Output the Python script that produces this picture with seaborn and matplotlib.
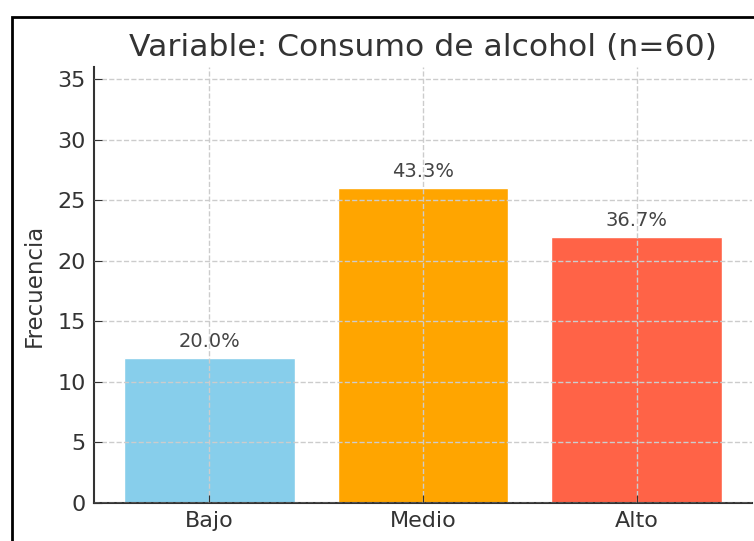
import pandas as pd
import seaborn as sns
import matplotlib.pyplot as plt
from matplotlib.patches import Rectangle

# Datos
categorias = ["Bajo", "Medio", "Alto"]
frecuencias = [12, 26, 22]
porcentajes = ["20.0%", "43.3%", "36.7%"]
colores = ["#87CEEB", "#FFA500", "#FF6347"]

df = pd.DataFrame({"nivel": categorias, "frecuencia": frecuencias})

sns.set_style("ticks")
fig = plt.figure(figsize=(7.54, 5.41), dpi=100)
ax = fig.add_axes([94 / 754, 38 / 541, 658 / 754, 436 / 541])

sns.barplot(data=df, x="nivel", y="frecuencia", hue="nivel", palette=colores,
            legend=False, width=0.8, saturation=1, ax=ax)

for i, (f, p) in enumerate(zip(frecuencias, porcentajes)):
    ax.annotate(p, (i, f), xytext=(0, 5), textcoords="offset points",
                ha="center", va="bottom", fontsize=14, color="#444444")

ax.set_xlim(-0.54, 2.54)
ax.set_ylim(0, 36)
ax.set_yticks(range(0, 36, 5))
ax.set_title("Variable: Consumo de alcohol (n=60)", fontsize=22.6, color="#333333", pad=8)
ax.set_xlabel("")
ax.set_ylabel("Frecuencia", fontsize=16.5, color="#333333", labelpad=8)
ax.tick_params(axis="both", direction="in", length=6, labelsize=16, colors="#333333", pad=6)
ax.grid(True, linestyle="--", color="#cccccc", linewidth=1)
ax.set_axisbelow(False)
sns.despine(ax=ax, top=True, right=True)
for s in ["left", "bottom"]:
    ax.spines[s].set_color("#333333")
    ax.spines[s].set_linewidth(1.5)

# marco de la figura (recortado a la derecha y abajo)
fig.add_artist(Rectangle((12 / 754, -0.1), 1.1, 1.1 - 17 / 541, transform=fig.transFigure,
                         fill=False, edgecolor="black", linewidth=2, clip_on=False))

fig.savefig("out.png", dpi=100)
